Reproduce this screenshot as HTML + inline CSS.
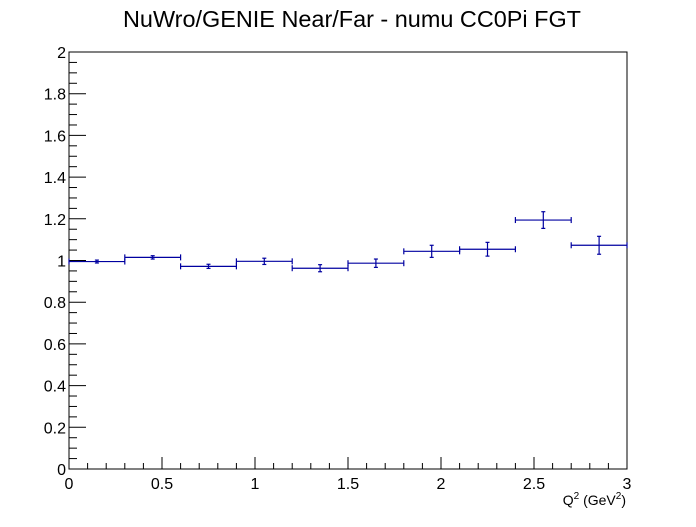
<!DOCTYPE html>
<html><head><meta charset="utf-8"><style>
body{margin:0;background:#fff;}
svg text{font-family:"Liberation Sans",sans-serif;}
</style></head><body>
<svg id="c" width="696" height="522" xmlns="http://www.w3.org/2000/svg">
<rect width="696" height="522" fill="#fff"/>
<text x="352" y="27" font-size="23" text-anchor="middle" textLength="458" lengthAdjust="spacingAndGlyphs">NuWro/GENIE Near/Far - numu CC0Pi FGT</text>
<rect x="69" y="52" width="558" height="417" fill="none" stroke="#000" stroke-width="1"/>
<g id="axes"></g>
<g id="marks"></g>
<text x="626" y="505" font-size="14" text-anchor="end">Q<tspan dy="-6" font-size="10">2</tspan><tspan dy="6"> (GeV</tspan><tspan dy="-6" font-size="10">2</tspan><tspan dy="6">)</tspan></text>
</svg>
<script>
const binEdges=[0,0.3,0.6,0.9,1.2,1.5,1.8,2.1,2.4,2.7,3.0];
const values=[0.995,1.015,0.972,0.996,0.963,0.987,1.044,1.054,1.194,1.073];
const errors=[0.007,0.008,0.01,0.015,0.017,0.02,0.029,0.033,0.04,0.043];
const xTicks=["0","0.5","1","1.5","2","2.5","3"];
const yTicks=["0","0.2","0.4","0.6","0.8","1","1.2","1.4","1.6","1.8","2"];
const X0=69,X1=627,Y0=469,Y1=52;
const sx=v=>X0+(v-0)/3*(X1-X0);
const sy=v=>Y0-(v-0)/2*(Y0-Y1);
const NS="http://www.w3.org/2000/svg";
const ax=document.getElementById('axes'),mk=document.getElementById('marks');
function el(t,a,p){const e=document.createElementNS(NS,t);for(const k in a)e.setAttribute(k,a[k]);p.appendChild(e);return e;}
for(let i=0;i<=30;i++){const v=i*0.1,x=sx(v),maj=i%5===0;
 const l=el('line',{x1:x,x2:x,y1:Y0,y2:Y0-(maj?12:6),stroke:'#000'},ax);
 
 }
xTicks.forEach(t=>{const tx=el('text',{x:sx(parseFloat(t)),y:Y0+20,'font-size':16,'text-anchor':'middle'},ax);tx.textContent=t;
 
 });
for(let i=0;i<=40;i++){const v=i*0.05,y=sy(v),maj=i%4===0;
 const l=el('line',{x1:X0,x2:X0+(maj?17:8),y1:y,y2:y,stroke:'#000'},ax);
 
 }
yTicks.forEach(t=>{const tx=el('text',{x:X0-3,y:sy(parseFloat(t))+6,'font-size':16,'text-anchor':'end'},ax);tx.textContent=t;
 
 });
values.forEach((v,i)=>{const g=el('g',{stroke:'#0000a0','stroke-width':1.2},mk);
 
 
 const xa=sx(binEdges[i]),xb=sx(binEdges[i+1]),xc=(xa+xb)/2,y=sy(v),yl=sy(v-errors[i]),yh=sy(v+errors[i]);
 el('line',{x1:xa,x2:xb,y1:y,y2:y},g);
 el('line',{x1:xa,x2:xa,y1:y-3,y2:y+3},g);
 el('line',{x1:xb,x2:xb,y1:y-3,y2:y+3},g);
 el('line',{x1:xc,x2:xc,y1:yl,y2:yh},g);
 el('line',{x1:xc-2,x2:xc+2,y1:yl,y2:yl},g);
 el('line',{x1:xc-2,x2:xc+2,y1:yh,y2:yh},g);});
</script>
</body></html>
